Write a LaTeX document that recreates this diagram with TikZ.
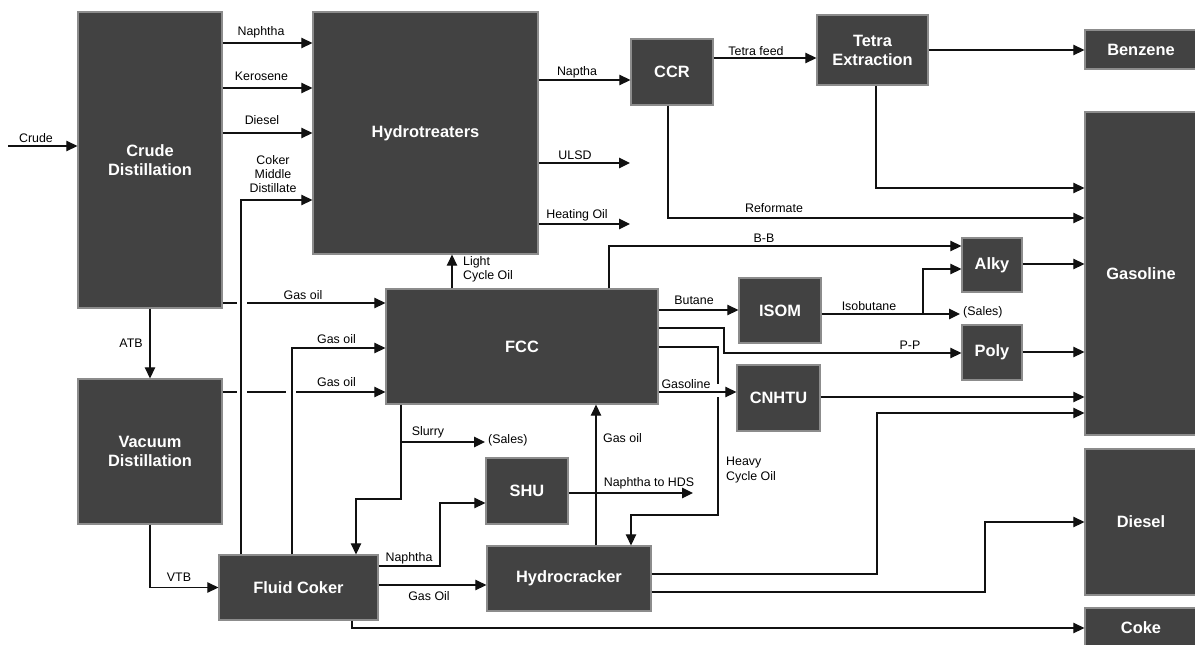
\documentclass[tikz,border=0pt]{standalone}
\usepackage{fontspec}
\setmainfont{Liberation Sans}
\usetikzlibrary{arrows.meta}
\definecolor{boxfill}{HTML}{424242}
\definecolor{boxedge}{HTML}{8C8C8C}
\definecolor{linec}{HTML}{111111}
\begin{document}
\begin{tikzpicture}[x=1pt,y=-1pt,
  box/.style={draw=boxedge, fill=boxfill, line width=1.3pt, text=white,
    font=\fontsize{16.4}{19}\selectfont\bfseries, align=center, inner sep=0pt},
  arr/.style={draw=linec, line width=1.2pt, -{Triangle[length=11pt,width=10.5pt]}},
  ln/.style={draw=linec, line width=1.2pt},
  lbl/.style={font=\fontsize{12.4}{14.3}\selectfont, inner sep=0pt, align=center, text=black}]
\useasboundingbox (0,0) rectangle (1195,645);
\fill[white] (0,0) rectangle (1195,645);

% ---------- boxes ----------
\node[box, minimum width=144pt, minimum height=296pt] (crude) at (150,160) {Crude\\Distillation};
\node[box, minimum width=144pt, minimum height=145pt] (vac) at (150,451.5) {Vacuum\\Distillation};
\node[box, minimum width=225pt, minimum height=242pt] (hydro) at (425.5,133) {Hydrotreaters};
\node[box, minimum width=82pt, minimum height=66pt] (ccr) at (672,72) {CCR};
\node[box, minimum width=111pt, minimum height=70pt] (tetra) at (872.5,50) {Tetra\\Extraction};
\node[box, minimum width=112pt, minimum height=39pt] (benz) at (1141,49.5) {Benzene};
\node[box, minimum width=112pt, minimum height=323pt] (gas) at (1141,273.5) {Gasoline};
\node[box, minimum width=112pt, minimum height=146pt] (dsl) at (1141,522) {Diesel};
\node[box, minimum width=112pt, minimum height=40pt] (coke) at (1141,628) {Coke};
\node[box, minimum width=60pt, minimum height=54pt] (alky) at (992,265) {Alky};
\node[box, minimum width=60pt, minimum height=55pt] (poly) at (992,352.5) {Poly};
\node[box, minimum width=82pt, minimum height=65pt] (isom) at (780,310.5) {ISOM};
\node[box, minimum width=83pt, minimum height=66pt] (cnhtu) at (778.5,398) {CNHTU};
\node[box, minimum width=272pt, minimum height=115pt] (fcc) at (522,346.5) {FCC};
\node[box, minimum width=82pt, minimum height=66pt] (shu) at (527,491) {SHU};
\node[box, minimum width=164pt, minimum height=65pt] (hc) at (569,578.5) {Hydrocracker};
\node[box, minimum width=159pt, minimum height=65pt] (coker) at (298.5,587.5) {Fluid Coker};

% ---------- free ends ----------
\coordinate (crudein) at (8,146);
\coordinate (ulsd) at (630,163);
\coordinate (hoil) at (630,224);
\coordinate (sales2) at (960,314);
\coordinate (sales1) at (485,442);
\coordinate (hds) at (693,493);

% ---------- connectors ----------
\draw[arr] (crudein) -- (crude.west |- crudein);
\draw[arr] (crude.east |- 0,43) -- (hydro.west |- 0,43);
\draw[arr] (crude.east |- 0,88) -- (hydro.west |- 0,88);
\draw[arr] (crude.east |- 0,133) -- (hydro.west |- 0,133);
\draw[arr] (coker.north -| 241,0) -- (241,200) -- (hydro.west |- 0,200);
\draw[ln] (crude.east |- 0,303) -- (237,303);
\draw[arr] (247,303) -- (fcc.west |- 0,303);
\draw[arr] (crude.south) -- (vac.north);
\draw[arr] (coker.north -| 292,0) -- (292,348) -- (fcc.west |- 0,348);
\draw[ln] (vac.east |- 0,392) -- (237,392);
\draw[ln] (247,392) -- (286,392);
\draw[arr] (296,392) -- (fcc.west |- 0,392);
\draw[arr] (vac.south) |- (coker.west);
\draw[arr] (coker.east |- 0,566) -- (440,566) -- (440,503) -- (shu.west |- 0,503);
\draw[arr] (coker.east |- 0,585) -- (hc.west |- 0,585);
\draw[arr] (coker.south -| 352,0) |- (coke.west |- 0,628);
\draw[arr] (fcc.north -| 452,0) -- (hydro.south -| 452,0);
\draw[arr] (hydro.east |- 0,80) -- (ccr.west |- 0,80);
\draw[arr] (hydro.east |- ulsd) -- (ulsd);
\draw[arr] (hydro.east |- hoil) -- (hoil);
\draw[arr] (ccr.east |- 0,58) -- (tetra.west |- 0,58);
\draw[arr] (tetra.east |- 0,50) -- (benz.west |- 0,50);
\draw[arr] (tetra.south -| 876,0) |- (gas.west |- 0,188);
\draw[arr] (ccr.south -| 668,0) |- (gas.west |- 0,218);
\draw[arr] (fcc.north -| 609,0) |- (alky.west |- 0,246);
\draw[arr] (alky.east |- 0,264) -- (gas.west |- 0,264);
\draw[arr] (fcc.east |- 0,310) -- (isom.west |- 0,310);
\draw[arr] (isom.east |- sales2) -- (sales2);
\draw[arr] (923,314) |- (alky.west |- 0,269);
\draw[arr] (fcc.east |- 0,328) -- (724,328) |- (poly.west |- 0,353);
\draw[arr] (poly.east |- 0,352) -- (gas.west |- 0,352);
\draw[ln] (fcc.east |- 0,347) -- (718,347) -- (718,384);
\draw[arr] (718,397) -- (718,515) -- (631,515) -- (hc.north -| 631,0);
\draw[arr] (fcc.east |- 0,392) -- (cnhtu.west |- 0,392);
\draw[arr] (cnhtu.east |- 0,397) -- (gas.west |- 0,397);
\draw[arr] (hc.east |- 0,574) -- (877,574) |- (gas.west |- 0,413);
\draw[arr] (hc.east |- 0,592) -- (985,592) |- (dsl.west |- 0,522);
\draw[arr] (hc.north -| 596,0) -- (fcc.south -| 596,0);
\draw[arr] (fcc.south -| 401,0) -- (401,499) -- (356,499) -- (coker.north -| 356,0);
\draw[arr] (401,442) -- (sales1);
\draw[arr] (shu.east |- hds) -- (hds);

% ---------- labels ----------
\node[lbl] (lcrude) at (36,138) {Crude};
\node[lbl] (lnaph) at (261,32) {Naphtha};
\node[lbl] (lkero) at (261.5,76) {Kerosene};
\node[lbl] (ldies) at (262,120) {Diesel};
\node[lbl] (lcmd) at (273,174) {Coker\\Middle\\Distillate};
\node[lbl] (lgo1) at (303,295) {Gas oil};
\node[lbl] (latb) at (131,343) {ATB};
\node[lbl] (lgo2) at (336.5,339) {Gas oil};
\node[lbl] (lgo3) at (336.5,382) {Gas oil};
\node[lbl] (lvtb) at (179,577) {VTB};
\node[lbl] (lnaph2) at (409,558) {Naphtha};
\node[lbl] (lgo4) at (429,596) {Gas Oil};
\node[lbl, align=left, anchor=west] (llco) at (463,269.5) {Light\\Cycle Oil};
\node[lbl] (lnapt) at (577,72) {Naptha};
\node[lbl] (lulsd) at (575,155) {ULSD};
\node[lbl] (lhoil) at (577,215) {Heating Oil};
\node[lbl] (ltf) at (756,51) {Tetra feed};
\node[lbl] (lref) at (774,208) {Reformate};
\node[lbl] (lbb) at (764,238) {B-B};
\node[lbl] (lbut) at (694,300) {Butane};
\node[lbl] (liso) at (869,306) {Isobutane};
\node[lbl, anchor=west] (lsales2) at (963,312) {(Sales)};
\node[lbl] (lpp) at (910,345) {P-P};
\node[lbl] (lgasl) at (686,384) {Gasoline};
\node[lbl] (lslur) at (428,432) {Slurry};
\node[lbl, anchor=west] (lsales1) at (488,440) {(Sales)};
\node[lbl, anchor=west] (lgo5) at (603,438) {Gas oil};
\node[lbl] (lhds) at (649,483) {Naphtha to HDS};
\node[lbl, align=left, anchor=west] (lhco) at (726,470) {Heavy\\Cycle Oil};
\end{tikzpicture}
\end{document}
